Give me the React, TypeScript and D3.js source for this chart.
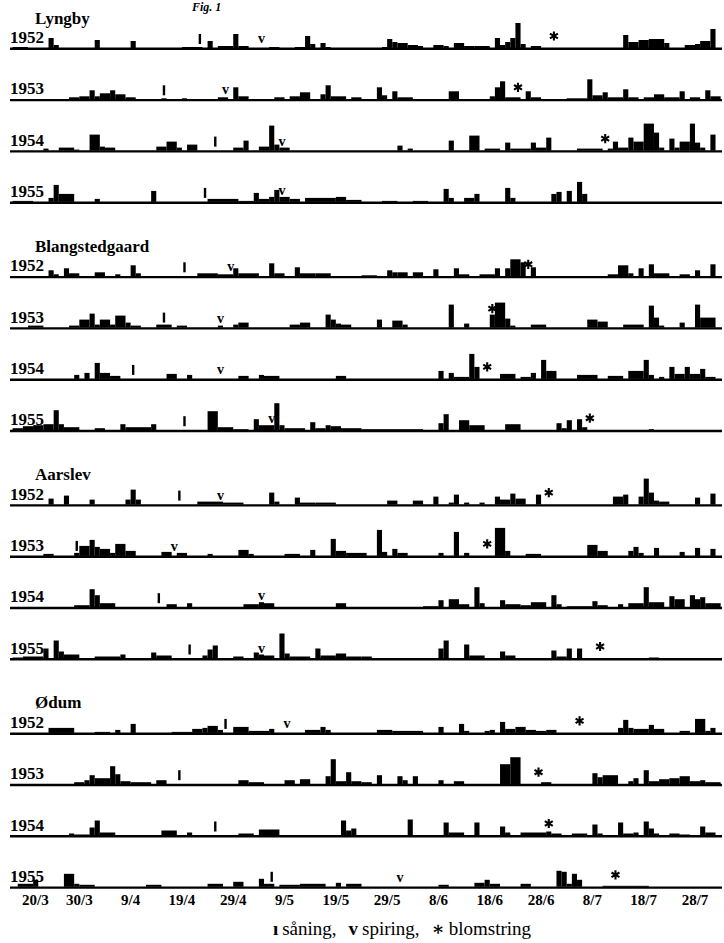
import * as d3 from 'd3'

// day 0 = 20/3, one bar per day; rain entries are [firstDay, lastDay, mm]
const stations = ['Lyngby', 'Blangstedgaard', 'Aarslev', 'Ødum']
const years = [1952, 1953, 1954, 1955]
const tickDays = [0, 10, 20, 30, 40, 50, 60, 70, 80, 90, 100, 110, 120, 130]
const tickLabels = ['20/3', '30/3', '9/4', '19/4', '29/4', '9/5', '19/5', '29/5', '8/6', '18/6', '28/6', '8/7', '18/7', '28/7']

const lyngby1952 = [[-3,-1,1],[4,4,10],[5,5,3],[13,13,8],[20,20,7],[30,33,1],[35,35,7],[37,39,2],[40,40,14],[41,42,2],[47,48,1],[52,53,1],[54,54,12],[55,55,4],[57,57,5],[58,58,1],
  [69,69,1],[70,70,9],[71,71,6],[72,73,5],[74,75,3],[76,76,2],[79,80,3],[81,81,2],[83,84,5],[85,86,2],[87,89,2],[91,91,10],[92,92,3],[93,93,6],[94,94,10],[95,95,25],[96,96,4],[98,99,2],
  [116,116,13],[117,118,6],[119,120,8],[121,123,9],[124,124,5],[128,129,3],[130,130,4],[131,132,7],[133,133,19]]
const lyngby1953 = [[8,9,2],[10,11,3],[12,12,9],[13,13,3],[14,15,6],[16,16,9],[17,18,5],[19,20,2],[26,26,1],[30,30,1],[37,38,2],[40,40,12],[41,42,3],[48,49,2],[51,52,3],[53,54,7],[57,57,5],[58,58,14],[59,61,3],[63,64,2],
  [68,68,12],[69,69,4],[71,71,8],[72,74,2],[82,83,8],[90,90,3],[91,91,12],[92,92,18],[93,95,2],[97,97,8],[98,99,2],[105,108,1],[109,109,20],[110,111,4],[112,112,7],[113,115,2],
  [116,116,10],[117,118,2],[120,121,2],[122,123,5],[124,126,2],[127,127,8],[129,130,2],[132,132,9],[133,134,3]]
const lyngby1954 = [[3,3,2],[6,8,3],[9,9,1],[12,13,16],[14,14,4],[15,16,3],[25,26,4],[27,28,9],[29,29,3],[31,32,6],[40,41,3],[42,42,10],[45,46,4],[47,47,25],[48,48,6],[49,50,3],
  [72,72,5],[74,74,2],[82,82,10],[86,87,15],[89,91,2],[93,93,8],[94,97,2],[98,98,8],[99,100,3],[101,101,13],[107,111,2],[113,113,2],[114,114,9],[115,116,3],[117,117,13],
  [118,119,9],[120,121,27],[122,122,18],[123,123,3],[125,125,12],[126,126,3],[127,128,9],[129,129,27],[130,130,8],[131,131,3],[133,133,16]]
const lyngby1955 = [[-3,0,1],[4,4,4],[5,5,17],[6,8,8],[13,13,3],[24,24,11],[35,40,3],[41,43,1],[44,44,9],[45,46,3],[47,47,5],[48,48,12],[49,50,5],[51,52,3],[54,59,4],[60,61,5],[62,64,2],
  [69,71,1],[75,77,1],[81,81,13],[82,82,4],[85,86,4],[87,87,8],[93,93,14],[94,94,4],[102,102,8],[103,103,10],[105,105,11],[107,107,20],[108,108,8]]

const blang1952 = [[4,4,6],[5,5,2],[7,7,8],[8,9,3],[13,14,4],[17,17,2],[20,20,11],[21,21,3],[33,36,3],[37,39,2],[40,40,8],[41,44,3],[47,47,13],[48,49,3],[52,52,9],[53,55,3],[56,58,3],
  [65,67,1],[70,70,6],[71,71,4],[72,73,4],[75,76,4],[79,79,7],[83,83,8],[84,85,2],[88,90,2],[91,91,8],[93,93,8],[94,95,17],[96,96,14],[98,98,9],[113,114,2],[115,116,11],[117,117,3],
  [119,119,8],[121,121,12],[122,124,3],[127,128,2],[130,130,6],[133,133,12]]
const blang1953 = [[0,2,2],[8,9,2],[10,11,8],[12,12,14],[13,13,3],[14,15,8],[16,16,3],[17,18,12],[19,19,5],[20,21,2],[25,27,3],[29,30,2],[37,37,2],[40,40,3],[41,42,5],[51,52,3],[53,54,5],[58,58,13],[59,59,8],[60,60,4],[61,62,3],
  [68,68,8],[71,72,7],[73,73,3],[82,82,23],[85,85,4],[90,90,13],[91,92,25],[93,93,9],[94,94,2],[98,100,3],[109,110,8],[111,112,6],[116,119,3],[121,121,22],[122,122,10],[123,123,2],[127,127,5],[130,130,23],[131,133,10]]
const blang1954 = [[9,9,4],[11,11,6],[13,13,16],[14,15,6],[16,17,3],[27,28,5],[31,31,4],[41,42,3],[45,45,4],[46,48,3],[60,61,3],
  [80,80,8],[82,82,6],[83,85,2],[86,86,25],[87,87,12],[92,94,5],[96,97,2],[98,98,6],[100,100,19],[101,102,8],[107,110,4],[113,115,3],[117,119,8],[120,120,19],[121,121,4],[123,123,2],
  [125,125,12],[126,127,5],[128,128,12],[129,130,5],[131,131,10],[132,133,2]]
const blang1955 = [[-3,-2,2],[-1,0,4],[1,2,5],[3,4,6],[5,5,20],[6,6,6],[7,9,3],[13,14,2],[18,18,6],[19,23,3],[24,24,6],[35,36,19],[37,39,3],[40,42,1],[44,44,11],[45,47,5],[48,48,27],[49,49,5],[50,53,2],[55,55,8],[56,57,2],[58,58,5],[59,60,4],[61,64,2],
  [65,76,1],[80,80,7],[81,81,16],[84,85,10],[86,88,5],[93,95,6],[103,103,7],[104,104,2],[105,105,10],[107,107,11],[108,108,3],[121,121,1]]

const aarslev1952 = [[4,4,6],[7,7,9],[12,12,5],[19,19,5],[20,20,15],[21,21,5],[33,37,3],[38,41,2],[47,47,12],[48,48,3],[52,52,7],[53,55,2],[56,59,2],
  [70,71,4],[75,76,4],[79,79,8],[82,82,2],[83,83,10],[85,85,2],[88,88,2],[91,91,8],[92,93,5],[94,94,11],[95,96,6],[99,99,10],[114,115,8],[116,116,10],[119,119,8],[120,120,26],[121,121,12],[122,122,4],[123,124,3],[130,130,7],[133,133,11]]
const aarslev1953 = [[3,4,2],[9,9,3],[10,11,10],[12,12,16],[13,13,9],[14,15,7],[16,16,3],[17,18,12],[19,20,5],[26,27,4],[29,30,3],[35,35,2],[41,42,6],[43,43,2],[50,52,2],[55,55,6],[59,59,17],[60,61,5],[62,65,3],
  [68,68,26],[69,69,4],[71,71,7],[72,73,3],[80,80,3],[83,83,24],[85,85,3],[91,92,28],[93,93,5],[97,99,2],[109,110,11],[111,112,5],[117,117,5],[118,118,9],[119,119,3],[122,122,8],[127,127,4],[130,130,8],[133,133,7]]
const aarslev1954 = [[9,11,2],[12,12,18],[13,13,12],[14,16,4],[27,28,3],[31,31,4],[42,44,3],[45,45,5],[46,47,4],[60,61,4],
  [77,79,1],[80,80,7],[82,83,8],[84,85,3],[87,87,20],[88,88,4],[92,92,7],[93,95,3],[96,97,2],[98,100,5],[102,102,12],[103,103,3],[105,109,1],[110,110,6],[111,112,2],[115,115,3],
  [117,119,4],[120,120,20],[121,121,5],[122,123,5],[125,125,11],[126,127,8],[129,129,12],[130,130,8],[131,131,10],[132,134,4]]
const aarslev1955 = [[-3,-2,1],[-1,2,2],[3,3,10],[5,5,18],[6,6,7],[7,9,4],[13,17,2],[18,18,4],[24,24,6],[25,27,3],[34,34,3],[35,35,9],[36,36,13],[40,41,2],[44,44,6],[45,45,4],[46,47,3],[49,49,25],[50,50,5],[51,54,2],[56,56,10],[57,59,3],[60,61,5],[62,64,2],
  [65,66,2],[80,80,10],[81,81,18],[85,85,14],[86,88,3],[92,92,7],[93,94,3],[102,102,8],[103,104,2],[105,105,10],[107,107,10],[121,122,1]]

const odum1952 = [[4,8,5],[13,15,1],[17,17,3],[20,20,9],[28,31,1],[32,33,4],[34,34,5],[35,36,7],[37,37,3],[40,42,6],[43,46,2],[47,47,4],[54,56,3],[57,57,6],[58,58,3],
  [68,70,3],[71,76,2],[80,80,6],[84,84,9],[85,85,2],[89,89,2],[90,90,3],[92,92,11],[93,94,4],[95,96,6],[97,98,3],[99,100,2],[101,102,3],[115,115,5],[116,116,13],[117,117,5],[118,120,4],[121,121,8],[122,123,4],[127,128,2],[130,131,14],[132,132,2],[133,133,5]]
const odum1953 = [[9,10,2],[11,11,4],[12,12,9],[13,15,6],[16,16,18],[17,17,10],[18,19,3],[20,23,2],[25,26,4],[41,42,4],[43,45,2],[50,51,4],[53,54,5],[58,58,8],[59,59,25],[60,61,3],[62,62,12],[63,64,3],
  [65,66,2],[68,68,9],[72,72,8],[73,73,4],[75,75,8],[80,80,4],[83,84,3],[92,93,20],[94,95,27],[100,101,2],[110,110,11],[111,111,7],[112,114,9],[117,117,3],[118,118,6],[120,120,14],[121,122,3],[123,124,5],[125,126,6],[127,128,8],[129,130,3],[131,131,4],[132,134,2]]
const odum1954 = [[8,8,2],[9,11,1],[12,12,8],[13,13,15],[14,16,3],[26,28,5],[31,31,3],[41,43,2],[45,48,6],[61,61,15],[62,62,5],[63,63,7],
  [74,74,16],[81,81,13],[82,84,3],[87,87,13],[92,92,9],[93,93,3],[96,100,3],[101,101,4],[102,103,2],[106,108,2],[110,110,11],[111,111,2],[115,115,13],[116,117,2],[118,118,3],[120,120,14],[121,121,7],[122,122,2],[125,126,2],[127,128,1],[131,131,9],[132,133,3]]
const odum1955 = [[-2,0,3],[1,1,7],[7,8,13],[9,9,3],[10,12,2],[23,25,2],[35,37,3],[40,41,5],[45,45,8],[46,47,3],[49,52,2],[53,57,3],[60,60,4],[62,64,3],
  [80,81,2],[87,88,4],[89,89,7],[90,91,3],[96,97,3],[103,103,16],[104,104,15],[105,105,3],[106,106,13],[107,107,7],[112,120,1]]

const rain = [
  [lyngby1952, lyngby1953, lyngby1954, lyngby1955],
  [blang1952, blang1953, blang1954, blang1955],
  [aarslev1952, aarslev1953, aarslev1954, aarslev1955],
  [odum1952, odum1953, odum1954, odum1955],
]

// såning, spiring, blomstring (day index, one per year)
const sowing = [[33, 26, 36, 34], [30, 26, 20, 30], [29, 9, 25, 31], [38, 29, 36, 47]]
const spiring = [[45, 38, 49, 49], [39, 37, 37, 47], [37, 28, 45, 45], [50, null, null, 72]]
const flowering = [[102, 95, 112, null], [97, 90, 89, 109], [101, 89, null, 111], [107, 99, 101, 114]]

const serif = '"Liberation Serif", "DejaVu Serif", serif'

export default function App() {
  const W = 724
  const H = 943
  const x = d3.scaleLinear().domain([0, 130]).range([28, 695])
  const h = d3.scaleLinear().domain([0, 10]).range([0, 10])
  const lineY = (g: number, r: number) => 48 + g * 228.3 + r * 51.3
  const barAt = (series: number[][], day: number) =>
    d3.max(series.filter(s => s[0] <= day && day <= s[1]), s => s[2]) || 0

  const star = (cx: number, cy: number, r: number) =>
    [90, 30, 150]
      .map(a => {
        const t = (a * Math.PI) / 180
        const dx = r * Math.cos(t)
        const dy = r * Math.sin(t)
        return `M${cx + dx},${cy - dy}L${cx - dx},${cy + dy}`
      })
      .join('')

  const axisY = lineY(3, 3)

  return (
    <svg width={W} height={H} style={{ position: 'absolute', left: 0, top: 0, background: '#fff' }} fontFamily={serif}>
      <text x={192} y={11} fontSize={12} fontWeight="bold" fontStyle="italic">Fig. 1</text>
      {stations.map((name, g) => (
        <g key={name}>
          <text x={35} y={lineY(g, 0) - 24.5} fontSize={17} fontWeight="bold">{name}</text>
          {years.map((yr, r) => {
            const y0 = lineY(g, r)
            const series = rain[g][r]
            const sow = sowing[g][r]
            const spir = spiring[g][r]
            const flw = flowering[g][r]
            return (
              <g key={yr}>
                <text x={10} y={y0 - 5} fontSize={17} fontWeight="bold">{yr}</text>
                {series.map((s, i) => (
                  <rect key={i} x={x(s[0])} width={x(s[1] + 1) - x(s[0])} y={y0 - h(s[2])} height={h(s[2])} fill="#000" />
                ))}
                <line x1={10} x2={722} y1={y0 + 0.8} y2={y0 + 0.8} stroke="#000" strokeWidth={2.4} />
                {sow != null && (() => {
                  const b = Math.max(4, h(barAt(series, sow)) + 2)
                  return <rect x={x(sow + 0.5) - 1.2} width={2.4} y={y0 - b - 10} height={10} fill="#000" />
                })()}
                {spir != null && (() => {
                  const b = Math.max(5, h(barAt(series, spir)) + 2)
                  return <text x={x(spir + 0.5)} y={y0 - b} fontSize={14} fontWeight="bold" textAnchor="middle">v</text>
                })()}
                {flw != null && (() => {
                  const b = Math.max(12, h(barAt(series, flw)) + 6)
                  return <path d={star(x(flw + 0.5), y0 - b, 4.6)} stroke="#000" strokeWidth={2.1} />
                })()}
              </g>
            )
          })}
        </g>
      ))}
      {tickDays.map((d, i) => (
        <text key={d} x={i === 0 ? x(d) - 6 : x(d)} y={axisY + 18} fontSize={15} fontWeight="bold" textAnchor={i === 0 ? 'start' : 'middle'}>
          {tickLabels[i]}
        </text>
      ))}
      <text x={402} y={axisY + 48} fontSize={19} textAnchor="middle">
        <tspan fontWeight="bold">ı</tspan>
        <tspan dx={4}>såning,</tspan>
        <tspan dx={12} fontWeight="bold">v</tspan>
        <tspan dx={4}>spiring,</tspan>
        <tspan dx={12} fontWeight="bold">∗</tspan>
        <tspan dx={4}>blomstring</tspan>
      </text>
    </svg>
  )
}
